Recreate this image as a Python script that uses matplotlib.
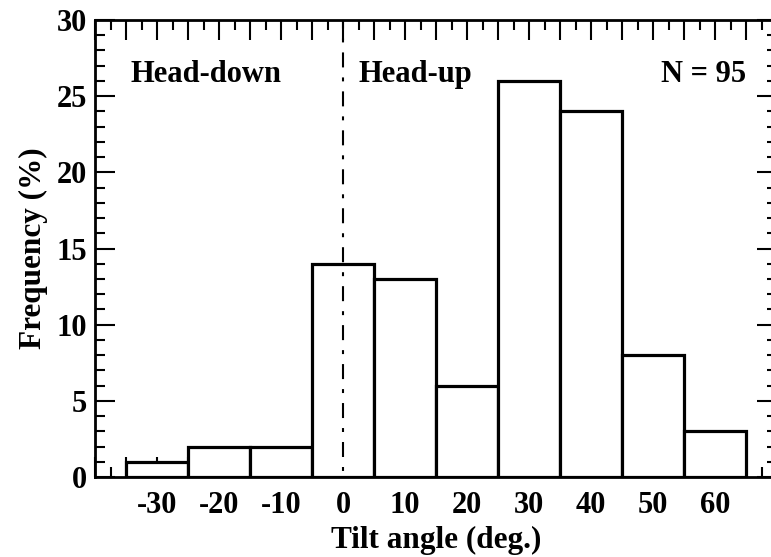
import matplotlib
import matplotlib.pyplot as plt
from matplotlib.ticker import MultipleLocator, FuncFormatter

matplotlib.use("Agg")

# tilt angle histogram, 10-degree bins centred on these angles
bin_centers = [-30, -20, -10, 0, 10, 20, 30, 40, 50, 60]
frequency = [1, 2, 2, 14, 13, 6, 26, 24, 8, 3]
bin_width = 10
n_total = 95

plt.rcParams["font.family"] = ["Liberation Serif", "DejaVu Serif"]
plt.rcParams["font.weight"] = "bold"
plt.rcParams["font.size"] = 22

fig = plt.figure(figsize=(7.71, 5.57), dpi=100)
# right edge of the frame sits just past the canvas
ax = fig.add_axes([95 / 771, 80 / 557, 682 / 771, 457 / 557])

ax.bar(bin_centers, frequency, width=bin_width, color="white",
       edgecolor="black", linewidth=2.3, zorder=3)

# boundary between head-down and head-up
ax.plot([0, 0], [0, 30], color="black", linewidth=1.5,
        linestyle=(9.1, (7.2, 4.8, 1.9, 4.8)), zorder=4)

ax.set_xlim(-40, 70)
ax.set_ylim(0, 30)

ax.xaxis.set_major_locator(MultipleLocator(5))
ax.xaxis.set_minor_locator(MultipleLocator(2.5))
ax.yaxis.set_major_locator(MultipleLocator(5))
ax.yaxis.set_minor_locator(MultipleLocator(1))


def xlabel_fmt(v, pos):
    v = int(round(v))
    if v % 10 == 0 and -30 <= v <= 60:
        return str(v)
    return ""


ax.xaxis.set_major_formatter(FuncFormatter(xlabel_fmt))
ax.yaxis.set_major_formatter(FuncFormatter(lambda v, pos: "%d" % v))

ax.tick_params(which="both", direction="in", top=True, right=True,
               width=1.5, color="black")
ax.tick_params(which="major", length=14.4)
ax.tick_params(which="minor", length=7.5)
ax.tick_params(axis="x", which="major", pad=10)
ax.tick_params(axis="y", which="major", pad=6)

for spine in ax.spines.values():
    spine.set_linewidth(2.0)

ax.set_xlabel("Tilt angle (deg.)", fontsize=22.5, fontweight="bold",
              labelpad=4)
ax.set_ylabel("Frequency (%)", fontsize=22.5, fontweight="bold",
              labelpad=6)

ax.text(-34.2, 25.9, "Head-down", fontweight="bold",
        ha="left", va="baseline")
ax.text(2.5, 25.9, "Head-up", fontweight="bold",
        ha="left", va="baseline")
ax.text(65, 25.9, "N = %d" % n_total, fontweight="bold",
        ha="right", va="baseline")

fig.savefig("out.png", dpi=100)
plt.close(fig)
